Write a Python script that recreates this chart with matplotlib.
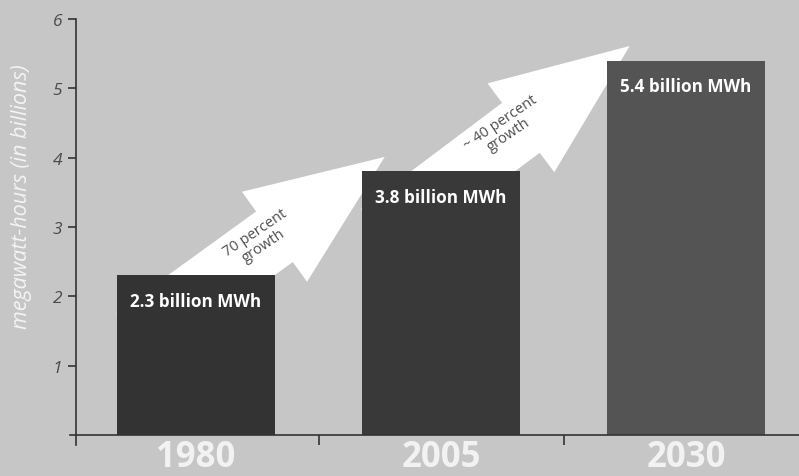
import matplotlib
matplotlib.use("Agg")
import matplotlib.pyplot as plt
from matplotlib.patches import FancyArrowPatch

years = ["1980", "2005", "2030"]
values = [2.3, 3.8, 5.4]
bar_labels = ["2.3 billion MWh", "3.8 billion MWh", "5.4 billion MWh"]
growth_labels = ["70 percent\ngrowth", "~ 40 percent\ngrowth"]
bar_colors = ["#333333", "#393939", "#545454"]
y_ticks = [1, 2, 3, 4, 5, 6]

plt.rcParams["font.family"] = ["Open Sans", "DejaVu Sans"]

bg = "#c6c6c6"
fig = plt.figure(figsize=(7.99, 4.77), dpi=100, facecolor=bg)
ax = fig.add_axes([0.0859, 0.0642, 1 - 0.0859, 0.894])
ax.set_facecolor(bg)

x = list(range(len(years)))
ax.set_xlim(-0.52, 2.461)
ax.set_ylim(-0.15, 6.0)

# growth arrows behind the bars
for i in range(len(values) - 1):
    tail = (x[i] - 0.25, values[i] - 0.9)
    tip = (x[i] + 0.77, values[i + 1] + 0.21)
    arrow = FancyArrowPatch(tail, tip,
                            arrowstyle="simple,head_length=98,head_width=80,tail_width=45",
                            mutation_scale=1, shrinkA=0, shrinkB=0,
                            color="white", lw=0, zorder=1)
    ax.add_patch(arrow)
    ax.text(tip[0] - 0.51, tip[1] - 1.18, growth_labels[i], rotation=34,
            rotation_mode="anchor", ha="center", va="center",
            fontsize=10.5, color="#4d4d4d", linespacing=1.0, zorder=4)

bars = ax.bar(x, values, width=0.645, color=bar_colors, zorder=2)

for xi, v, lab in zip(x, values, bar_labels):
    ax.text(xi, v - 0.37, lab, ha="center", va="center", color="white",
            fontsize=12.3, fontweight="bold", zorder=3)

# axes lines
for side in ["top", "right"]:
    ax.spines[side].set_visible(False)
ax.spines["left"].set_position(("data", -0.49))
ax.spines["left"].set_bounds(-0.14, 6)
ax.spines["bottom"].set_position(("data", 0))
ax.spines["bottom"].set_bounds(-0.515, 2.461)
for side in ["left", "bottom"]:
    ax.spines[side].set_color("#333333")
    ax.spines[side].set_linewidth(1.2)
    ax.spines[side].set_zorder(5)

ax.set_yticks(y_ticks)
ax.set_yticklabels([str(t) for t in y_ticks], fontsize=12.5, style="italic",
                   color="#4a4a4a")
ax.tick_params(axis="y", length=6, width=1.2, color="#333333", pad=4)

ax.set_xticks(x)
ax.set_xticklabels(years, fontsize=25, fontweight="bold", color="#f2f2f2")
ax.tick_params(axis="x", which="major", length=0, pad=3)
ax.set_xticks([0.5, 1.5], minor=True)
ax.tick_params(axis="x", which="minor", length=7, width=1.2, color="#333333")

fig.text(0.0275, 0.587, "megawatt-hours (in billions)", rotation=90,
         ha="center", va="center", fontsize=15.5, style="italic", color="#f4f4f4")

fig.savefig("out.png", dpi=100, facecolor=bg)
